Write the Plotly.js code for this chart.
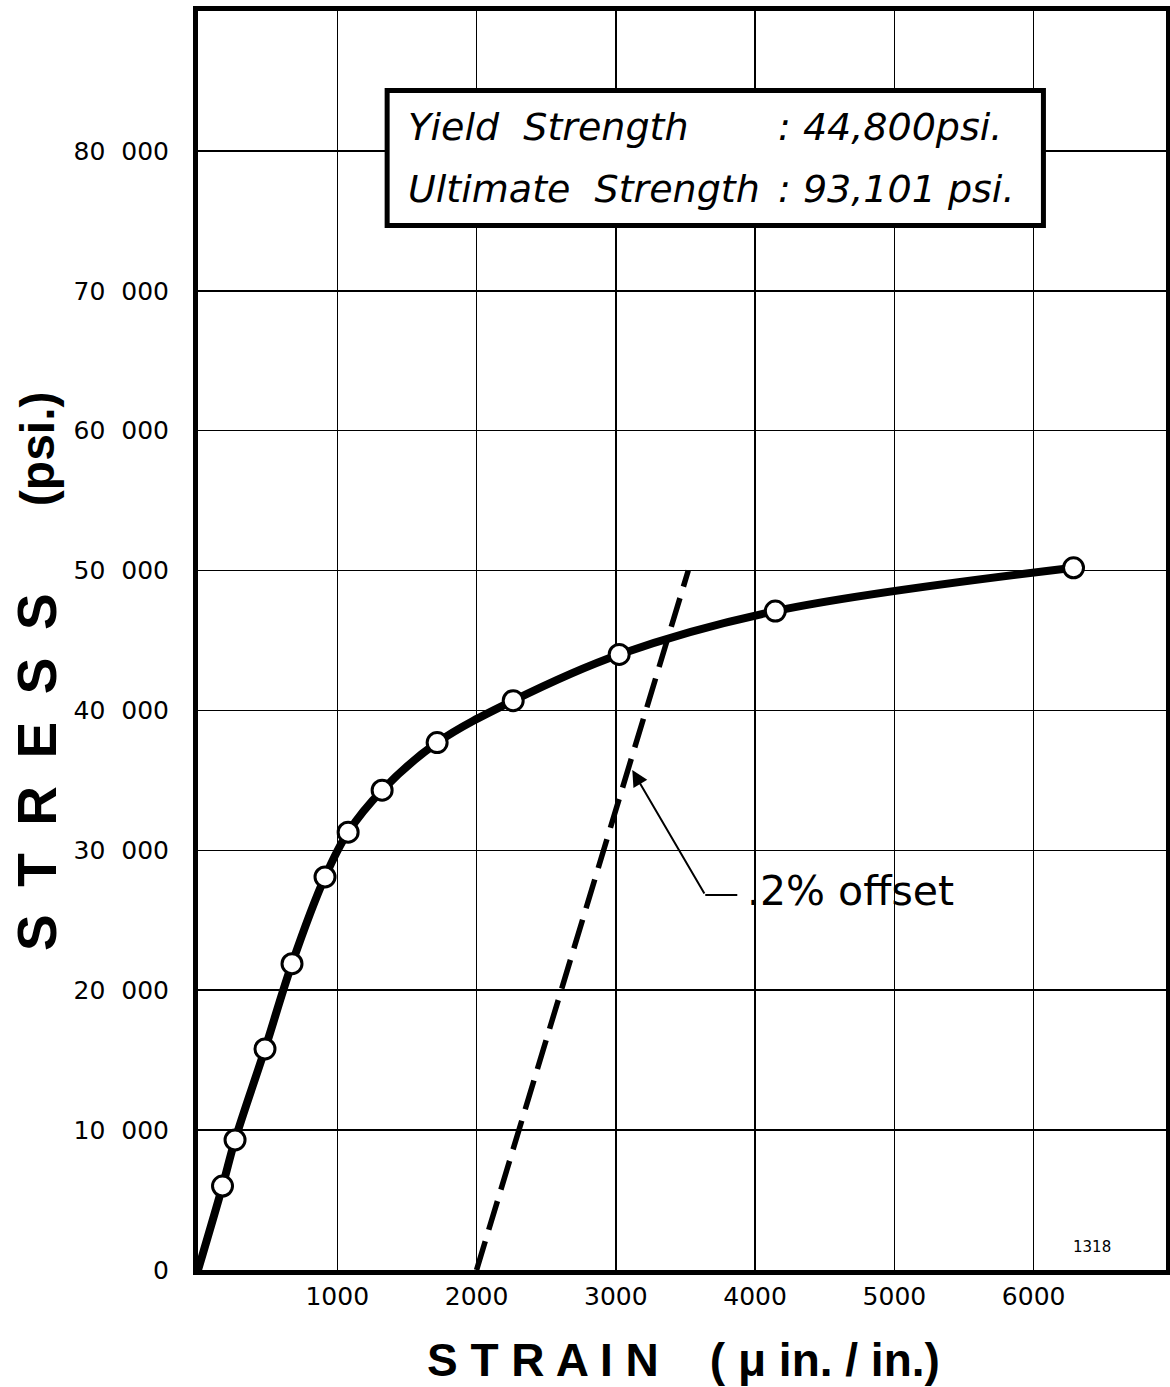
<!DOCTYPE html>
<html>
<head>
<meta charset="utf-8">
<script src="https://cdn.plot.ly/plotly-3.0.1.min.js"></script>
<style>
  html, body { margin: 0; padding: 0; background: #ffffff; }
  #chart { width: 1170px; height: 1387px; }
</style>
</head>
<body>
<div id="chart"></div>
<script>
// ---- Data ----
// Measured test points (strain in micro-in/in, stress in psi)
var pointStrain = [176, 266, 481, 675, 912, 1078, 1322, 1717, 2263, 3024, 4145, 6286];
var pointStress = [6000, 9300, 15800, 21900, 28100, 31300, 34300, 37700, 40700, 44000, 47100, 50200];

// Faired stress-strain curve starts at the origin and passes through the points
var curveStrain = [0].concat(pointStrain);
var curveStress = [0].concat(pointStress);

// 0.2 % offset line
var offsetStrain = [2000, 3520];
var offsetStress = [0, 50000];

// Axis ticks
var xTickVals = [0, 1000, 2000, 3000, 4000, 5000, 6000];
var xTickText = ['', '1000', '2000', '3000', '4000', '5000', '6000'];
var yTickVals = [0, 10000, 20000, 30000, 40000, 50000, 60000, 70000, 80000];
var yTickText = ['0', '10\u00a0\u00a0000', '20\u00a0\u00a0000', '30\u00a0\u00a0000', '40\u00a0\u00a0000',
                 '50\u00a0\u00a0000', '60\u00a0\u00a0000', '70\u00a0\u00a0000', '80\u00a0\u00a0000'];

// Text in the result box
var boxLabels = ['Yield\u00a0\u00a0Strength', 'Ultimate\u00a0\u00a0Strength'];
var boxValues = [':\u00a044,800psi.', ':\u00a093,101\u00a0psi.'];

// ---- Traces ----
var curve = {
  x: curveStrain, y: curveStress,
  mode: 'lines',
  line: { color: '#000', width: 8, shape: 'spline', smoothing: 1 },
  hoverinfo: 'skip', showlegend: false
};
var points = {
  x: pointStrain, y: pointStress,
  mode: 'markers',
  marker: { size: 20, color: '#fff', line: { color: '#000', width: 3 } },
  showlegend: false
};
var offset = {
  x: offsetStrain, y: offsetStress,
  mode: 'lines',
  line: { color: '#000', width: 5.5, dash: '30px,12px' },
  hoverinfo: 'skip', showlegend: false
};

var tickFont = { family: 'DejaVu Sans', size: 25, color: '#000' };
var boxFont = { family: 'DejaVu Sans', size: 38, color: '#000', style: 'italic' };

var layout = {
  width: 1170, height: 1387,
  margin: { l: 198, r: 4, t: 11, b: 117 },
  paper_bgcolor: '#fff', plot_bgcolor: '#fff',
  showlegend: false,
  xaxis: {
    range: [0, 6950], tickmode: 'array', tickvals: xTickVals, ticktext: xTickText,
    showgrid: true, gridcolor: '#000', gridwidth: 1.5, zeroline: false,
    showline: true, mirror: true, linecolor: '#000', linewidth: 5,
    ticks: '', tickfont: tickFont, ticklabelstandoff: 0, fixedrange: true
  },
  yaxis: {
    range: [0, 90000], tickmode: 'array', tickvals: yTickVals, ticktext: yTickText,
    showgrid: true, gridcolor: '#000', gridwidth: 1.5, zeroline: false,
    showline: true, mirror: true, linecolor: '#000', linewidth: 5,
    ticks: '', tickfont: tickFont, ticklabelstandoff: 19, fixedrange: true
  },
  shapes: [
    { type: 'rect', xref: 'x', yref: 'y', x0: 1358, x1: 6070, y0: 74660, y1: 84310,
      fillcolor: '#fff', line: { color: '#000', width: 5 }, layer: 'above' },
    { type: 'line', xref: 'x', yref: 'y', x0: 3642, y0: 26805, x1: 3872, y1: 26805,
      line: { color: '#000', width: 2 } }
  ],
  annotations: [
    { xref: 'x', yref: 'y', x: 1490, y: 81700, xanchor: 'left', yanchor: 'middle',
      text: boxLabels[0], showarrow: false, font: boxFont },
    { xref: 'x', yref: 'y', x: 1490, y: 77270, xanchor: 'left', yanchor: 'middle',
      text: boxLabels[1], showarrow: false, font: boxFont },
    { xref: 'x', yref: 'y', x: 4150, y: 81700, xanchor: 'left', yanchor: 'middle',
      text: boxValues[0], showarrow: false, font: boxFont },
    { xref: 'x', yref: 'y', x: 4150, y: 77270, xanchor: 'left', yanchor: 'middle',
      text: boxValues[1], showarrow: false, font: boxFont },
    // leader arrow of the offset note
    { xref: 'x', yref: 'y', x: 3118, y: 35740, axref: 'x', ayref: 'y', ax: 3642, ay: 26805,
      text: '', showarrow: true, arrowhead: 2, arrowsize: 1.6, arrowwidth: 2, arrowcolor: '#000',
      standoff: 0, startstandoff: 0 },
    { xref: 'x', yref: 'y', x: 3930, y: 27100, xanchor: 'left', yanchor: 'middle',
      text: '.2%\u00a0offset', showarrow: false,
      font: { family: 'DejaVu Sans', size: 41, color: '#000' } },
    { xref: 'x', yref: 'y', x: 6422, y: 1650, xanchor: 'center', yanchor: 'middle',
      text: '1318', showarrow: false,
      font: { family: 'DejaVu Sans', size: 15, color: '#000' } },
    // axis titles
    { xref: 'paper', yref: 'paper', x: 0.502, y: -0.0715, xanchor: 'center', yanchor: 'middle',
      text: 'S T R A I N\u00a0\u00a0\u00a0 ( \u03bc in. / in.)', showarrow: false,
      font: { family: 'Liberation Sans', size: 46, color: '#000', weight: 'bold' } },
    { xref: 'paper', yref: 'paper', x: -0.1663, y: 0.3956, xanchor: 'center', yanchor: 'middle',
      text: 'S\u2002T\u2002R\u2002E\u2002S\u2002S', textangle: -90, showarrow: false,
      font: { family: 'Liberation Sans', size: 55, color: '#000', weight: 'bold' } },
    { xref: 'paper', yref: 'paper', x: -0.1663, y: 0.652, xanchor: 'center', yanchor: 'middle',
      text: '(psi.)', textangle: -90, showarrow: false,
      font: { family: 'Liberation Sans', size: 48, color: '#000', weight: 'bold' } }
  ]
};

Plotly.newPlot('chart', [offset, curve, points], layout, { displayModeBar: false, staticPlot: true });
</script>
</body>
</html>
